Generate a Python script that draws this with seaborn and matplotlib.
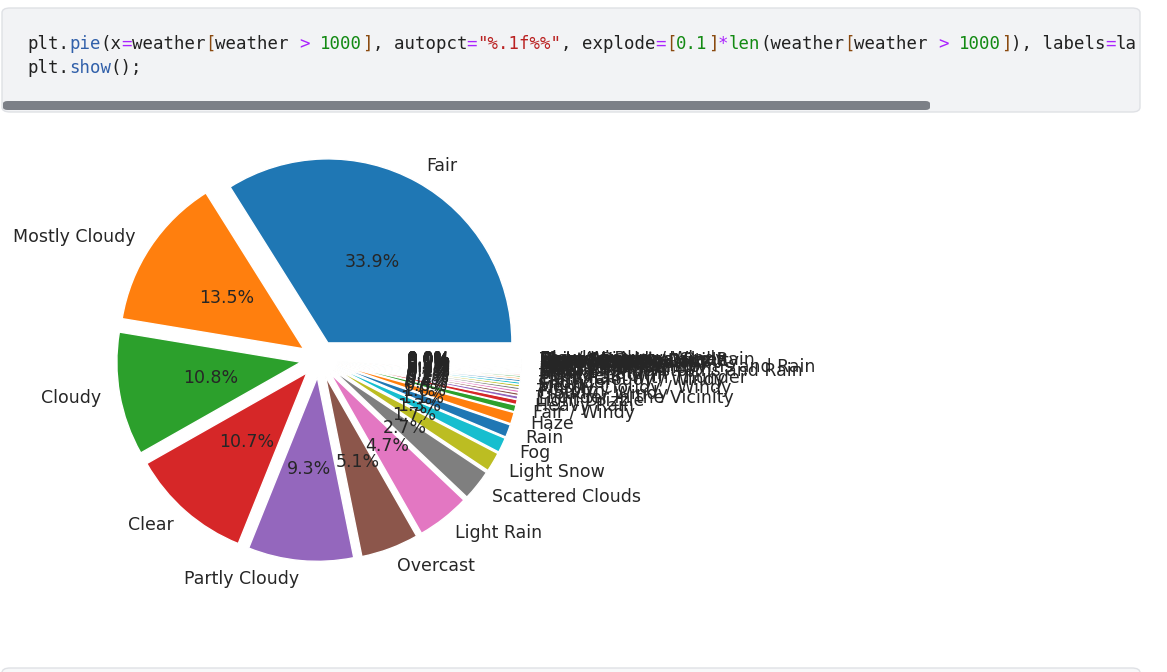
import matplotlib
matplotlib.use("Agg")
import matplotlib.pyplot as plt
from matplotlib.patches import FancyBboxPatch
import seaborn as sns

# ---------------- data (value counts of weather conditions > 1000) ----------------
weather_labels = [
    "Fair", "Mostly Cloudy", "Cloudy", "Clear", "Partly Cloudy", "Overcast",
    "Light Rain", "Scattered Clouds", "Light Snow", "Fog", "Rain", "Haze",
    "Fair / Windy", "Heavy Rain", "Light Drizzle", "Thunder in the Vicinity",
    "Cloudy / Windy", "T-Storm", "Mostly Cloudy / Windy", "Snow", "Thunder",
    "Partly Cloudy / Windy", "Light Rain with Thunder", "Thunderstorm",
    "Heavy T-Storm", "Smoke", "Light Thunderstorms and Rain", "Drizzle",
    "Wintry Mix", "Light Rain / Windy", "Heavy Thunderstorms and Rain", "Mist",
    "Light Snow / Windy", "Heavy Snow", "Patches of Fog", "Shallow Fog",
    "N/A Precipitation", "Snow / Windy", "Light Freezing Rain",
    "Heavy Rain / Windy", "Showers in the Vicinity", "Blowing Snow",
    "Light Freezing Drizzle", "Thunderstorms and Rain", "Heavy Drizzle",
    "Rain / Windy", "Light Snow and Sleet", "Fog / Windy", "Blowing Dust / Windy",
]
weather_counts = [
    2560800, 1016200, 817100, 808700, 699000, 382900,
    353000, 204800, 128700, 99200, 84300, 76200,
    44200, 32300, 22700, 17600,
    17100, 16800, 16100, 15900, 14600,
    12000, 11900, 10000,
    9500, 7100, 6300, 5800,
    5400, 5000, 4900, 4600,
    4300, 3900, 3500, 3200,
    2900, 2700, 2400,
    2200, 2000, 1900,
    1700, 1600, 1500,
    1400, 1300, 1200, 1100,
]

code_line1 = [
    ("plt.", "txt"), ("pie", "fn"), ("(x", "txt"), ("=", "op"), ("weather", "txt"),
    ("[", "br"), ("weather ", "txt"), (">", "op"), (" ", "txt"), ("1000", "num"),
    ("]", "br"), (", autopct", "txt"), ("=", "op"), ('"%.1f%%"', "str"),
    (", explode", "txt"), ("=", "op"), ("[", "br"), ("0.1", "num"), ("]", "br"),
    ("*", "op"), ("len", "bi"), ("(weather", "txt"), ("[", "br"), ("weather ", "txt"),
    (">", "op"), (" ", "txt"), ("1000", "num"), ("]", "br"), ("), labels", "txt"),
    ("=", "op"), ("la", "txt"),
]
code_line2 = [("plt.", "txt"), ("show", "fn"), ("();", "txt")]

# ---------------- styling ----------------
sns.set_style("white")
plt.rcParams["font.family"] = ["DejaVu Sans"]
palette = sns.color_palette("tab10")
token_colors = {"txt": "#212121", "fn": "#3160aa", "op": "#aa22ff", "num": "#138a13",
                "br": "#8a4a10", "str": "#ba2121", "bi": "#138a13"}

W, H = 1167, 672
fig = plt.figure(figsize=(W / 100, H / 100), dpi=100)
fig.patch.set_facecolor("white")

def fx(px):
    return px / W

def fy(py):
    return 1 - py / H

# code cell box
cell = FancyBboxPatch((fx(2), fy(112)), fx(1138), 104 / H,
                      boxstyle="round,pad=0,rounding_size=0.007",
                      transform=fig.transFigure, facecolor="#f2f3f5",
                      edgecolor="#dfe1e5", linewidth=1.0, zorder=0)
fig.add_artist(cell)
scroll = FancyBboxPatch((fx(3), fy(110)), fx(927), 9 / H,
                        boxstyle="round,pad=0,rounding_size=0.004",
                        transform=fig.transFigure, facecolor="#7c8087",
                        edgecolor="none", zorder=1)
fig.add_artist(scroll)

char_w = 10.47
for line, base_y in ((code_line1, 49), (code_line2, 73)):
    col = 0
    for tok, kind in line:
        fig.text(fx(27 + col * char_w), fy(base_y), tok, family="DejaVu Sans Mono",
                 fontsize=12.5, color=token_colors[kind], va="baseline", ha="left",
                 zorder=2)
        col += len(tok)

# next cell border at the bottom
nxt = FancyBboxPatch((fx(2), fy(700)), fx(1138), 32 / H,
                     boxstyle="round,pad=0,rounding_size=0.007",
                     transform=fig.transFigure, facecolor="#f7f8f9",
                     edgecolor="#dfe1e5", linewidth=1.0, zorder=0)
fig.add_artist(nxt)

# ---------------- pie ----------------
cx, cy, r = 319, 359, 184
half = 1.25 * r
ax = fig.add_axes([fx(cx - half), fy(cy + half), 2 * half / W, 2 * half / H])
colors = [palette[i % 10] for i in range(len(weather_counts))]
wedges, texts, autotexts = ax.pie(
    weather_counts, labels=weather_labels, autopct="%.1f%%",
    explode=[0.1] * len(weather_counts), colors=colors, pctdistance=0.5,
    textprops={"fontsize": 12.5, "color": "#262626"},
)
ax.set_xlim(-1.25, 1.25)
ax.set_ylim(-1.25, 1.25)
ax.set_aspect("equal")
ax.axis("off")

fig.savefig("out.png", dpi=100, facecolor="white")
